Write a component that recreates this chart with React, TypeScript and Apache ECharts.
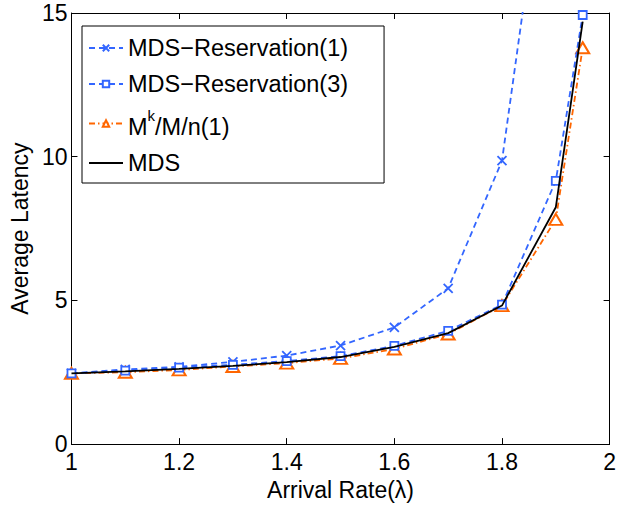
import React, { useEffect, useRef } from "react";
import * as echarts from "echarts";

const arrivalRates = [1, 1.1, 1.2, 1.3, 1.4, 1.5, 1.6, 1.7, 1.8, 1.9, 1.95];
const reservation1 = [2.46, 2.6, 2.69, 2.86, 3.08, 3.43, 4.06, 5.42, 9.86, 23.3];
const reservation3 = [2.46, 2.56, 2.66, 2.76, 2.89, 3.06, 3.42, 3.94, 4.85, 9.16, 14.93];
const mkmn = [2.46, 2.5, 2.58, 2.7, 2.82, 2.98, 3.31, 3.83, 4.82, 7.82, 13.79];
const mds = [2.46, 2.53, 2.62, 2.72, 2.85, 3.03, 3.38, 3.86, 4.82, 8.24, 14.7];

const seriesNames = ["MDS\u2212Reservation(1)", "MDS\u2212Reservation(3)", "Mk/M/n(1)", "MDS"];
const xTicks = { min: 1, max: 2, interval: 0.2 };
const yTicks = { min: 0, max: 15, interval: 5 };

const BLUE = "#3366ff";
const ORANGE = "#ff6600";
const FONT = "'Liberation Sans', Arial, Helvetica, sans-serif";
const FS = 23;
const LEGEND_FS = 23.5;

const pairs = (ys: number[]) => ys.map((y, i) => [arrivalRates[i], y]);

export default function App() {
  const ref = useRef<HTMLDivElement>(null);
  useEffect(() => {
    if (!ref.current) return;
    const chart = echarts.init(ref.current, undefined, { renderer: "svg" });
    const axisCommon = {
      axisLine: { show: true, onZero: false, lineStyle: { color: "#000", width: 1 } },
      axisTick: { show: true, inside: true, length: 6, lineStyle: { color: "#000", width: 1 } },
      splitLine: { show: false },
    };
    chart.setOption({
      animation: false,
      backgroundColor: "#fff",
      textStyle: { fontFamily: FONT },
      grid: { left: 67, right: 4, top: 13, bottom: 54, containLabel: false },
      legend: {
        orient: "vertical",
        left: 82,
        top: 26,
        backgroundColor: "#fff",
        borderColor: "#000",
        borderWidth: 1,
        padding: [10, 36, 8, 6],
        itemWidth: 34,
        itemHeight: 8,
        itemGap: 12,
        data: [
          seriesNames[0],
          seriesNames[1],
          seriesNames[2],
          { name: seriesNames[3], icon: "path://M0,0H34V2H0Z" },
        ],
        formatter: (name: string) =>
          name === "Mk/M/n(1)" ? "{m|M}{sup|k}{m|/M/n(1)}" : name,
        textStyle: {
          fontFamily: FONT,
          fontSize: LEGEND_FS,
          color: "#000",
          rich: {
            m: { fontFamily: FONT, fontSize: LEGEND_FS, color: "#000", verticalAlign: "bottom" },
            sup: {
              fontFamily: FONT,
              fontSize: 15,
              color: "#000",
              verticalAlign: "top",
              padding: [0, 0, 16, 0],
            },
          },
        },
      },
      xAxis: [
        {
          type: "value",
          position: "bottom",
          ...xTicks,
          ...axisCommon,
          axisLabel: { color: "#000", fontSize: FS, fontFamily: FONT, margin: 6 },
          name: "Arrival Rate(\u03bb)",
          nameLocation: "middle",
          nameGap: 28,
          nameTextStyle: { color: "#000", fontSize: FS, fontFamily: FONT },
        },
        {
          type: "value",
          position: "top",
          ...xTicks,
          ...axisCommon,
          axisLabel: { show: false },
        },
      ],
      yAxis: [
        {
          type: "value",
          position: "left",
          ...yTicks,
          ...axisCommon,
          axisLabel: { color: "#000", fontSize: FS, fontFamily: FONT, margin: 4 },
          name: "Average Latency",
          nameLocation: "middle",
          nameGap: 32,
          nameTextStyle: { color: "#000", fontSize: FS, fontFamily: FONT },
        },
        {
          type: "value",
          position: "right",
          ...yTicks,
          ...axisCommon,
          axisLabel: { show: false },
        },
      ],
      series: [
        {
          name: seriesNames[0],
          type: "line",
          data: pairs(reservation1),
          symbol: "path://M0,0L10,10M10,0L0,10",
          symbolSize: 9,
          lineStyle: { color: BLUE, width: 1.8, type: [6, 4] },
          itemStyle: { color: "rgba(0,0,0,0)", borderColor: BLUE, borderWidth: 1.8 },
          z: 3,
        },
        {
          name: seriesNames[1],
          type: "line",
          data: pairs(reservation3),
          symbol: "rect",
          symbolSize: 8,
          lineStyle: { color: BLUE, width: 1.8, type: [6, 4] },
          itemStyle: { color: "#fff", borderColor: BLUE, borderWidth: 1.8 },
          z: 3,
        },
        {
          name: seriesNames[2],
          type: "line",
          data: pairs(mkmn),
          symbol: "triangle",
          symbolSize: [13, 11],
          lineStyle: { color: ORANGE, width: 1.8, type: [6, 3, 1.5, 3] },
          itemStyle: { color: "#fff", borderColor: ORANGE, borderWidth: 2 },
          z: 2,
        },
        {
          name: seriesNames[3],
          type: "line",
          data: pairs(mds),
          symbol: "none",
          showSymbol: false,
          lineStyle: { color: "#000", width: 1.8 },
          itemStyle: { color: "#000" },
          z: 4,
        },
      ],
    });
    return () => chart.dispose();
  }, []);
  return <div ref={ref} style={{ position: "fixed", left: 0, top: 0, width: 619, height: 506 }} />;
}
